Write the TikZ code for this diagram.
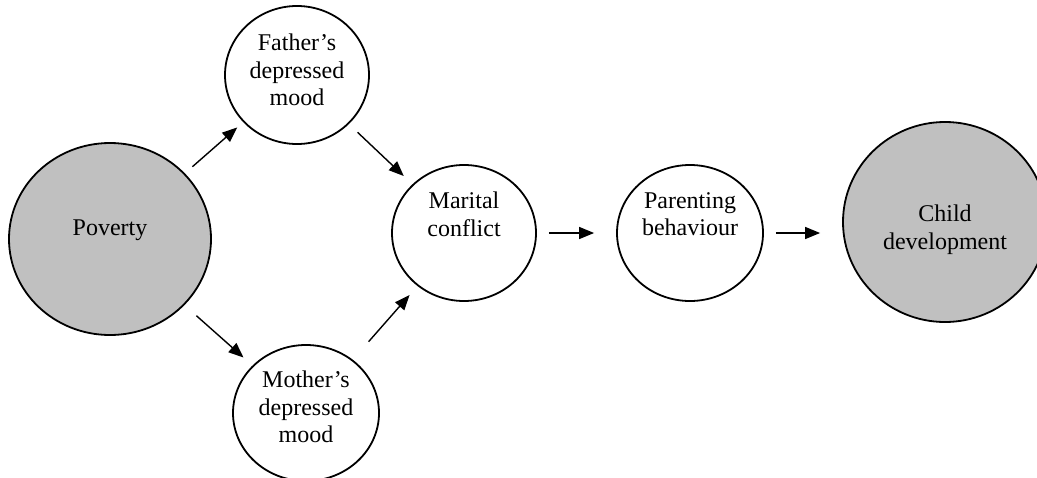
\documentclass[tikz,border=0pt]{standalone}
\usepackage{fontspec}
\setmainfont{Liberation Serif}
\usetikzlibrary{arrows.meta,shapes.geometric}
\definecolor{shade}{HTML}{C0C0C0}

\begin{document}
\begin{tikzpicture}[x=0.5pt,y=-0.5pt,
    bubble/.style={draw, ellipse, line width=0.9pt, fill=white, inner sep=0pt},
    greybubble/.style={bubble, fill=shade},
    txt/.style={align=center, inner sep=0pt, font=\fontsize{12}{13.8}\selectfont},
    link/.style={-{Triangle[length=7.5pt,width=6pt]}, line width=0.7pt}]
        \useasboundingbox (0,0) rectangle (1037,477);
        % circles
        \node[greybubble, minimum width=101pt, minimum height=96pt] (pov) at (110,239) {};
        \node[bubble, minimum width=72pt, minimum height=69pt] (fat) at (297,75) {};
        \node[bubble, minimum width=73pt, minimum height=68pt] (mot) at (306,413) {};
        \node[bubble, minimum width=72pt, minimum height=68pt] (mar) at (464,233) {};
        \node[bubble, minimum width=73pt, minimum height=68pt] (par) at (690,233) {};
        \node[greybubble, minimum width=102pt, minimum height=100pt] (chi) at (945,222) {};
        % texts
        \node[txt] (pov-t) at (110,230) {Poverty};
        \node[txt] (fat-t) at (297,70) {Father’s\\depressed\\mood};
        \node[txt] (mot-t) at (306,407) {Mother’s\\depressed\\mood};
        \node[txt] (mar-t) at (464,214) {Marital\\conflict};
        \node[txt] (par-t) at (690,214) {Parenting\\behaviour};
        \node[txt] (chi-t) at (945,230) {Child\\development};
        % arrows
        \draw[link, shorten <=5pt, shorten >=4pt] (pov) -- (fat);
        \draw[link, shorten <=8pt, shorten >=6pt] (pov) -- (mot);
        \draw[link, shorten <=6pt, shorten >=6pt] (fat) -- (mar);
        \draw[link, shorten <=12pt, shorten >=6pt] (mot) -- (mar);
        \draw[link, shorten <=6pt, shorten >=11pt] (mar) -- (par);
        \draw[link, shorten <=6pt, shorten >=11pt] (par.east) -- (chi.west |- par.east);
\end{tikzpicture}
\end{document}
